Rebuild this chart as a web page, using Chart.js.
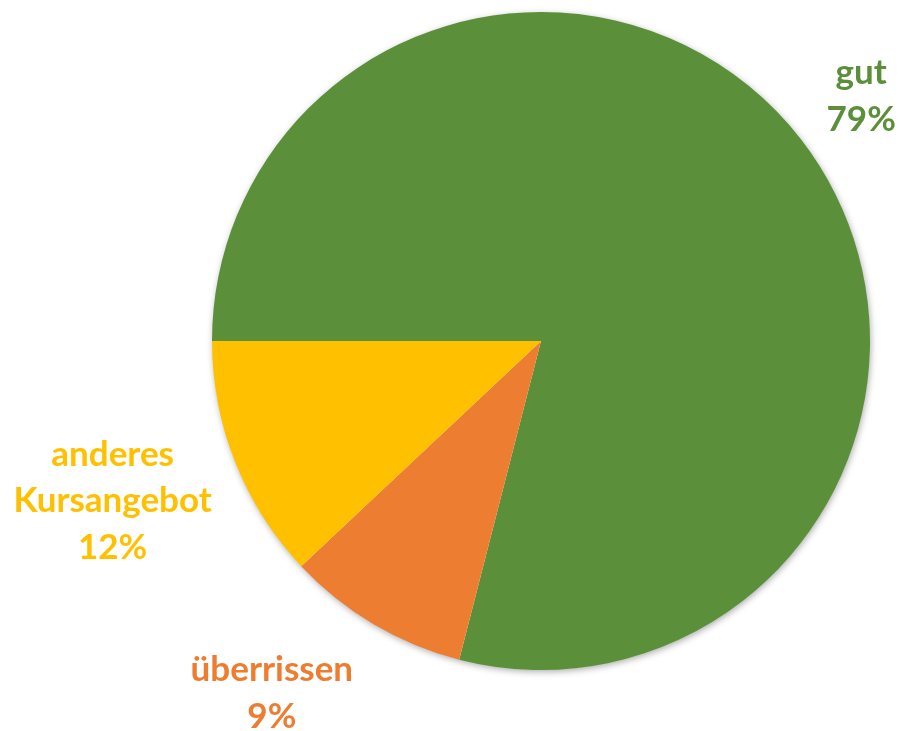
<!DOCTYPE html>
<html>
<head>
<meta charset="utf-8">
<script src="https://cdn.jsdelivr.net/npm/chart.js@4"></script>
<style>
  body { margin: 0; background: #fff; }
  #wrap { width: 900px; height: 731px; }
</style>
</head>
<body>
<div id="wrap"><canvas id="pieChart" width="900" height="731"></canvas></div>
<script>
// Daten
const categories = ['gut', 'überrissen', 'anderes Kursangebot'];
const shares = [79, 9, 12];
const sliceColors = ['#5B8F3A', '#ED7D31', '#FFC000'];
// Label-Zeilen (wie im Original umbrochen)
const labelLines = [['gut'], ['überrissen'], ['anderes', 'Kursangebot']];

// Platzierung der Beschriftungen: Winkelversatz (Grad) und Abstand relativ zum Radius
const labelPlacement = [
    { turn: 0.4, dist: 1.225 },
    { turn: 6.8, dist: 1.347 },
    { turn: 1.1, dist: 1.39 }
];

const shadowPlugin = {
    id: 'pieShadow',
    beforeDatasetsDraw(chart) {
        const arc = chart.getDatasetMeta(0).data[0];
        if (!arc) return;
        const ctx = chart.ctx;
        ctx.save();
        ctx.shadowColor = 'rgba(0,0,0,0.35)';
        ctx.shadowBlur = 7;
        ctx.shadowOffsetX = 1;
        ctx.shadowOffsetY = 2;
        ctx.fillStyle = '#ffffff';
        ctx.beginPath();
        ctx.arc(arc.x, arc.y, arc.outerRadius - 0.5, 0, Math.PI * 2);
        ctx.fill();
        ctx.restore();
    }
};

const labelPlugin = {
    id: 'outerLabels',
    afterDatasetsDraw(chart) {
        const ctx = chart.ctx;
        const meta = chart.getDatasetMeta(0);
        ctx.save();
        ctx.font = 'bold 35px Lato, "Open Sans", sans-serif';
        ctx.textAlign = 'center';
        ctx.textBaseline = 'middle';
        meta.data.forEach((arc, i) => {
            const p = labelPlacement[i];
            const mid = (arc.startAngle + arc.endAngle) / 2 + p.turn * Math.PI / 180;
            const r = arc.outerRadius * p.dist;
            const cx = arc.x + Math.cos(mid) * r;
            const cy = arc.y + Math.sin(mid) * r;
            const lines = labelLines[i].concat([shares[i] + '%']);
            const lh = 46.5;
            const top = cy - (lines.length - 1) * lh / 2;
            ctx.fillStyle = sliceColors[i];
            lines.forEach((t, k) => ctx.fillText(t, cx, top + k * lh));
        });
        ctx.restore();
    }
};

const ctx = document.getElementById('pieChart').getContext('2d');
const pieChart = new Chart(ctx, {
    type: 'pie',
    data: {
        labels: categories,
        datasets: [{
            data: shares,
            backgroundColor: sliceColors,
            borderWidth: 0
        }]
    },
    options: {
        responsive: false,
        animation: false,
        rotation: 270,
        layout: { padding: { left: 212, right: 30, top: 12, bottom: 61 } },
        plugins: {
            legend: { display: false },
            tooltip: { enabled: false }
        }
    },
    plugins: [shadowPlugin, labelPlugin]
});
</script>
</body>
</html>
